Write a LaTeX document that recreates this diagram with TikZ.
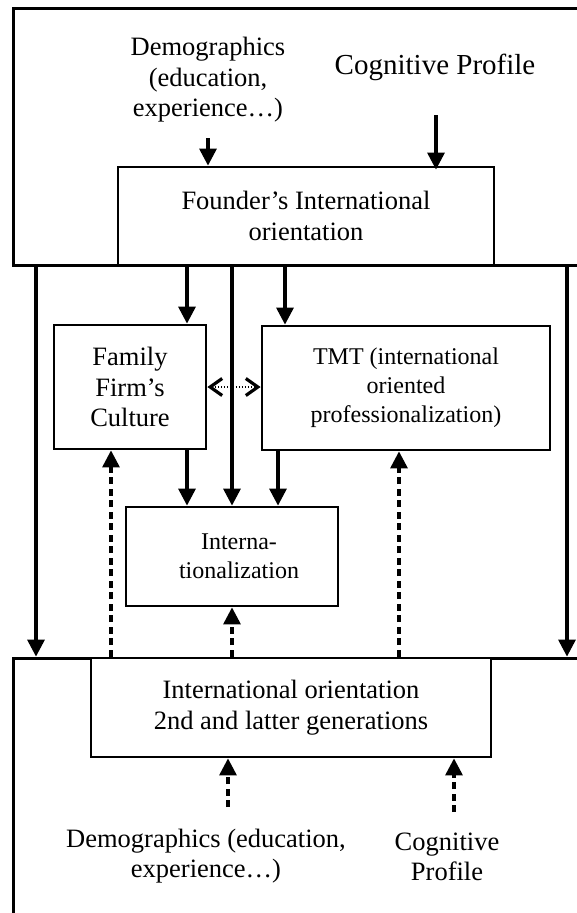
\documentclass[tikz,border=0pt]{standalone}
\usepackage{fontspec}
\setmainfont{Liberation Serif}
\usetikzlibrary{arrows.meta}
\begin{document}
\begin{tikzpicture}[x=1pt,y=-1pt,
  every node/.style={inner sep=0pt},
  box/.style={draw,line width=2.8pt,fill=white,align=center,anchor=center},
  lbl/.style={align=center},
  fs/.style={font=\fontsize{26.5}{30.5}\selectfont},
  fsm/.style={font=\fontsize{24}{29}\selectfont},
  ln/.style={line width=3.2pt},
  arr/.style={ln,-{Triangle[width=17pt,length=17pt]}},
  darr/.style={line width=3.2pt,dash pattern=on 7pt off 4.5pt,-{Triangle[width=17pt,length=17pt]}},
  dbl/.style={line width=2pt,dash pattern=on 1.6pt off 1.4pt,
    {Straight Barb[width=17pt,length=12pt,line width=3.2pt]}-{Straight Barb[width=17pt,length=12pt,line width=3.2pt]}}
]
\useasboundingbox (0,0) rectangle (576,913);
% outer frames
\draw[line width=3pt] (580,8) -- (13,8) -- (13,265) -- (580,265);
\draw[line width=3pt] (13,920) -- (13,658) -- (580,658);
% boxes
\node[box,fs,minimum width=376pt,minimum height=98pt] (founder) at (306,216) {Founder’s International\\orientation};
\node[box,fs,minimum width=152pt,minimum height=124pt] (family) at (130,387) {Family\\Firm’s\\Culture};
\node[box,fsm,minimum width=288pt,minimum height=124pt] (tmt) at (406,388) {TMT (international\\oriented\\professionalization)};
\node[box,fsm,minimum width=212pt,minimum height=99pt] (intl) at (232,556.5) {\hspace*{14pt}Interna-\\\hspace*{14pt}tionalization};
\node[box,fs,minimum width=400pt,minimum height=99pt] (gen) at (291,707.5) {International orientation\\2nd and latter generations};
% labels
\node[lbl,fs] (demotop) at (208,80) {Demographics\\(education,\\experience…)};
\node[lbl,font=\fontsize{29}{33}\selectfont] (cogtop) at (435,67) {Cognitive Profile};
\node[lbl,fs] (demobot) at (206,856) {Demographics (education,\\experience…)};
\node[lbl,fs] (cogbot) at (447,857) {Cognitive\\Profile};
% helper coordinates
\coordinate (d1) at (208,138);
\coordinate (c1) at (436,115);
\coordinate (xl) at (36,0);
\coordinate (xr) at (567,0);
\coordinate (xf) at (187,0);
\coordinate (xc) at (232,0);
\coordinate (xt) at (285,0);
\coordinate (xti) at (278,0);
\coordinate (xdl) at (111,0);
\coordinate (xdr) at (399,0);
\coordinate (b1) at (228,807);
\coordinate (b2) at (454,812);
% solid arrows
\draw[arr] (d1) -- (d1 |- founder.north);
\draw[arr] (c1) -- ([yshift=-4pt]c1 |- founder.north);
\draw[arr] (founder.south -| xl) -- (gen.north -| xl);
\draw[arr] (founder.south -| xr) -- (gen.north -| xr);
\draw[arr] (founder.south -| xf) -- (family.north -| xf);
\draw[arr] (founder.south -| xt) -- (tmt.north -| xt);
\draw[arr] (founder.south -| xc) -- (intl.north -| xc);
\draw[arr] (family.south -| xf) -- (intl.north -| xf);
\draw[arr] (tmt.south -| xti) -- (intl.north -| xti);
% dashed arrows
\draw[darr] (gen.north -| xdl) -- (family.south -| xdl);
\draw[darr] (gen.north -| xc) -- (intl.south -| xc);
\draw[darr] (gen.north -| xdr) -- (tmt.south -| xdr);
\draw[darr] (b1) -- (b1 |- gen.south);
\draw[darr] (b2) -- (b2 |- gen.south);
% dotted double arrow
\draw[dbl] (family.east) -- (family.east -| tmt.west);
\end{tikzpicture}
\end{document}
